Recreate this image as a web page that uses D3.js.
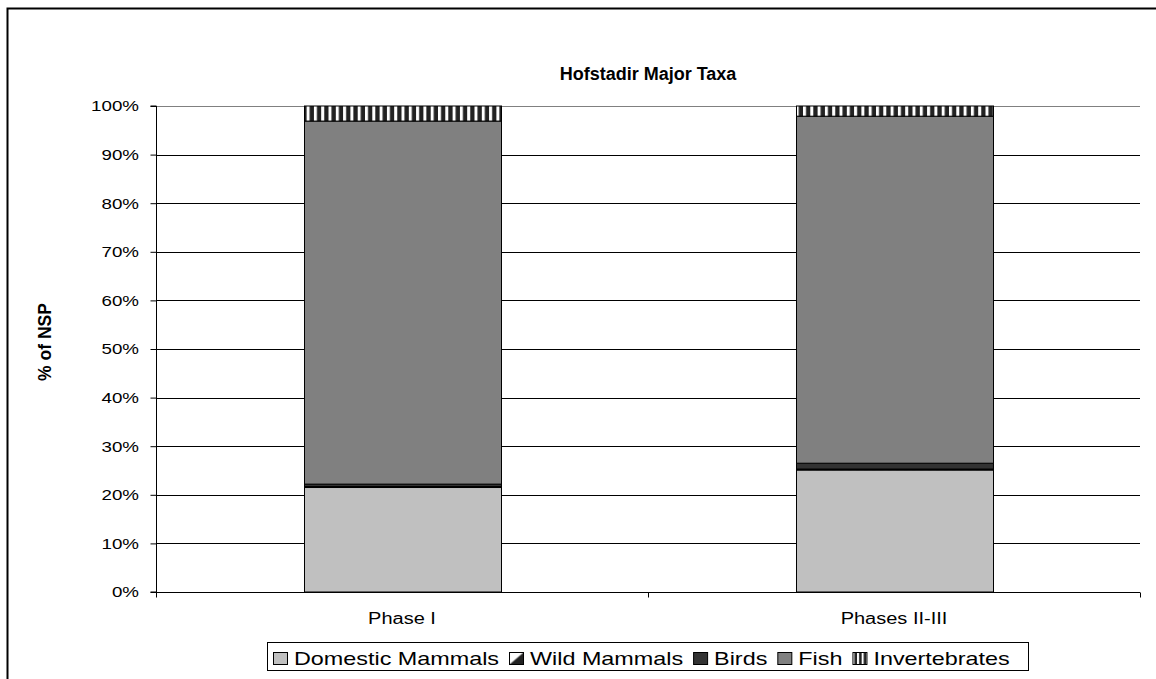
<!DOCTYPE html>
<html>
<head>
<meta charset="utf-8">
<script src="https://cdn.jsdelivr.net/npm/d3@7"></script>
<style>
  body { margin: 0; background: #fff; }
  svg { display: block; font-family: "Liberation Sans", Arial, sans-serif; }
</style>
</head>
<body>
<div id="chart"></div>
<script>
// data (percent of NSP)
const phases = ["Phase I", "Phases II-III"];
const taxa = ["Domestic Mammals", "Wild Mammals", "Birds", "Fish", "Invertebrates"];
const domestic = [21.5, 25.1];
const wild = [0.2, 0.2];
const birds = [0.5, 1.2];
const fish = [74.7, 71.4];
const invertebrates = [3.1, 2.1];
const yTicks = [0, 10, 20, 30, 40, 50, 60, 70, 80, 90, 100];

const width = 1156, height = 679;
const margin = { left: 156, top: 106, right: 16, bottom: 87 };
const sx = 1.25; // the original text is drawn a bit wide

const svg = d3.select("#chart").append("svg")
  .attr("width", width).attr("height", height);

//#region patterns
const defs = svg.append("defs");
const stripes = defs.append("pattern")
  .attr("id", "stripes").attr("patternUnits", "userSpaceOnUse")
  .attr("width", 7.3).attr("height", 10);
stripes.append("rect").attr("width", 7.3).attr("height", 10).attr("fill", "#fff");
stripes.append("rect").attr("x", 3).attr("width", 4.3).attr("height", 10).attr("fill", "#222");

const diag = defs.append("pattern")
  .attr("id", "diag").attr("patternUnits", "userSpaceOnUse")
  .attr("width", 8).attr("height", 8);
diag.append("rect").attr("width", 8).attr("height", 8).attr("fill", "#fff");
diag.append("path").attr("d", "M0,8 L8,0").attr("stroke", "#222").attr("stroke-width", 3);

const legendDiag = defs.append("pattern")
  .attr("id", "legendDiag").attr("patternUnits", "objectBoundingBox")
  .attr("width", 1).attr("height", 1).attr("patternContentUnits", "objectBoundingBox");
legendDiag.append("rect").attr("width", 1).attr("height", 1).attr("fill", "#fff");
legendDiag.append("path").attr("d", "M0,1 L1,0 L1,1 Z").attr("fill", "#222");

const legendStripes = defs.append("pattern")
  .attr("id", "legendStripes").attr("patternUnits", "userSpaceOnUse")
  .attr("width", 4.6).attr("height", 10);
legendStripes.append("rect").attr("width", 4.6).attr("height", 10).attr("fill", "#fff");
legendStripes.append("rect").attr("x", 2).attr("width", 2.6).attr("height", 10).attr("fill", "#222");
//#endregion

const fills = ["#c0c0c0", "url(#diag)", "#333333", "#808080", "url(#stripes)"];
const legendFills = ["#c0c0c0", "url(#legendDiag)", "#333333", "#808080", "url(#legendStripes)"];

// outer frame (runs off the right and bottom of the picture)
svg.append("rect")
  .attr("x", 7.5).attr("y", 8.5).attr("width", 1200).attr("height", 700)
  .attr("fill", "none").attr("stroke", "#000").attr("stroke-width", 2);

//#region scales
const x = d3.scaleBand().domain(phases)
  .range([margin.left, width - margin.right]).paddingInner(0.6).paddingOuter(0.3);
const y = d3.scaleLinear().domain([0, 100]).range([height - margin.bottom, margin.top]);
//#endregion

//#region gridlines
svg.append("g").selectAll("line")
  .data(yTicks.filter(d => d > 0))
  .join("line")
  .attr("x1", margin.left).attr("x2", width - margin.right)
  .attr("y1", d => Math.round(y(d)) + 0.5).attr("y2", d => Math.round(y(d)) + 0.5)
  .attr("stroke", d => (d === 100 ? "#808080" : "#000"));
//#endregion

//#region bars
const table = phases.map((p, i) => ({
  phase: p,
  "Domestic Mammals": domestic[i],
  "Wild Mammals": wild[i],
  "Birds": birds[i],
  "Fish": fish[i],
  "Invertebrates": invertebrates[i]
}));
const stacked = d3.stack().keys(taxa)(table);

svg.append("g").selectAll("g")
  .data(stacked)
  .join("g")
  .attr("fill", (d, i) => fills[i])
  .selectAll("rect")
  .data(d => d)
  .join("rect")
  .attr("x", d => Math.round(x(d.data.phase)) + 0.5)
  .attr("width", Math.round(x.bandwidth()))
  .attr("y", d => y(d[1]))
  .attr("height", d => y(d[0]) - y(d[1]))
  .attr("stroke", "#000").attr("stroke-width", 1);
//#endregion

//#region axes
const axisY = d3.axisLeft(y).tickValues(yTicks).tickSize(6).tickFormat(d => d + "%");
const gy = svg.append("g")
  .attr("transform", `translate(${margin.left + 0.5},0)`)
  .call(axisY);
gy.select(".domain").attr("d", `M-6,${y(0)}H0V${y(100)}H-6`).attr("stroke", "#000");
gy.selectAll(".tick line").attr("stroke", "#000").attr("x2", -6);
gy.selectAll(".tick text")
  .attr("x", -17.5 / sx).attr("font-size", 15).attr("fill", "#000")
  .attr("transform", `scale(${sx},1)`)
  .attr("font-family", "Liberation Sans, Arial, sans-serif");

const gx = svg.append("g").attr("transform", `translate(0,${Math.round(y(0)) + 0.5})`);
gx.append("line").attr("x1", margin.left).attr("x2", width - margin.right).attr("stroke", "#000");
const xTickPos = [margin.left, margin.left + (width - margin.left - margin.right) / 2, width - margin.right];
gx.selectAll(".xt").data(xTickPos).join("line")
  .attr("x1", d => Math.round(d) + 0.5).attr("x2", d => Math.round(d) + 0.5)
  .attr("y1", 0).attr("y2", 5).attr("stroke", "#000");
gx.selectAll("text").data(phases).join("text")
  .attr("transform", d => `translate(${x(d) + x.bandwidth() / 2},31) scale(${sx},1)`)
  .attr("text-anchor", "middle").attr("font-size", 16)
  .text(d => d);
//#endregion

//#region titles
svg.append("text")
  .attr("x", 648).attr("y", 80)
  .attr("text-anchor", "middle").attr("font-size", 18).attr("font-weight", "bold")
  .text("Hofstadir Major Taxa");

svg.append("text")
  .attr("transform", "translate(51,342) rotate(-90)")
  .attr("text-anchor", "middle").attr("font-size", 17.5).attr("font-weight", "bold")
  .text("% of NSP");
//#endregion

//#region legend
const legend = svg.append("g").attr("transform", "translate(267,642)");
legend.append("rect")
  .attr("x", 0.5).attr("y", 0.5).attr("width", 761).attr("height", 28)
  .attr("fill", "#fff").attr("stroke", "#000");
const lsx = 1.23;
let lx = 6;
taxa.forEach((t, i) => {
  const item = legend.append("g").attr("transform", `translate(${lx},0)`);
  item.append("rect")
    .attr("x", 0.5).attr("y", 10.5).attr("width", 14).attr("height", 12)
    .attr("fill", legendFills[i]).attr("stroke", "#000");
  const txt = item.append("text")
    .attr("transform", `translate(21,23) scale(${lsx},1)`)
    .attr("font-size", 19)
    .text(t);
  lx += 21 + txt.node().getComputedTextLength() * lsx + 10;
});
//#endregion
</script>
</body>
</html>
